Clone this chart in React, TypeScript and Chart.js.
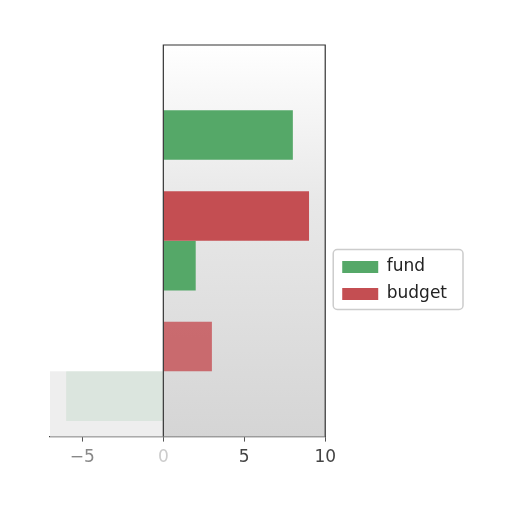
import { useEffect, useRef } from 'react';
import Chart from 'chart.js/auto';

// data
const categories = ['', '', ''];
const fundValues = [8, 2, -6];
const budgetValues = [0, 9, 3];
const xTicks = [-5, 0, 5, 10];

const GREEN = '#55a868';
const RED = '#c44e52';

// plot background, left band and frame around the 0..max part
const framePlugin = {
	id: 'frame',
	afterInit(chart: any) {
		// leave a bit more room around the legend
		const legend = chart.legend;
		if (legend) {
			const fit = legend.fit.bind(legend);
			legend.fit = () => {
				fit();
				legend.width += 16;
			};
		}
	},
	afterLayout(chart: any) {
		const legend = chart.legend;
		if (legend) {
			legend.left += 7;
			legend.right += 7;
		}
	},
	beforeDatasetsDraw(chart: any) {
		const { ctx, chartArea, scales } = chart;
		const x0 = scales.x.getPixelForValue(0);
		ctx.save();
		const g = ctx.createLinearGradient(0, chartArea.top, 0, chartArea.bottom);
		g.addColorStop(0, '#ffffff');
		g.addColorStop(0.4, '#e8e8e8');
		g.addColorStop(1, '#d5d5d5');
		ctx.fillStyle = g;
		ctx.fillRect(x0, chartArea.top, chartArea.right - x0, chartArea.bottom - chartArea.top);
		const bandTop = scales.y.getPixelForValue(2);
		ctx.fillStyle = '#eeeeee';
		ctx.fillRect(chartArea.left, bandTop, x0 - chartArea.left, chartArea.bottom - bandTop);
		ctx.restore();
	},
	afterDatasetsDraw(chart: any) {
		const { ctx, chartArea, scales } = chart;
		const x0 = scales.x.getPixelForValue(0);
		ctx.save();
		ctx.strokeStyle = '#333333';
		ctx.lineWidth = 1.2;
		ctx.beginPath();
		ctx.moveTo(x0, chartArea.bottom);
		ctx.lineTo(x0, chartArea.top);
		ctx.lineTo(chartArea.right, chartArea.top);
		ctx.lineTo(chartArea.right, chartArea.bottom);
		ctx.stroke();
		ctx.restore();
	},
	afterDraw(chart: any) {
		const boxes = chart.legend?.legendHitBoxes;
		if (!boxes || !boxes.length) return;
		const { ctx } = chart;
		let l = Infinity, t = Infinity, r = -Infinity, b = -Infinity;
		boxes.forEach((h: any) => {
			l = Math.min(l, h.left);
			t = Math.min(t, h.top);
			r = Math.max(r, h.left + h.width);
			b = Math.max(b, h.top + h.height);
		});
		ctx.save();
		ctx.strokeStyle = '#cccccc';
		ctx.lineWidth = 1.5;
		ctx.beginPath();
		ctx.roundRect(l - 9, t - 9, r - l + 25, b - t + 16, 4);
		ctx.stroke();
		ctx.restore();
	},
};

const App = () => {
	const chartRef = useRef<HTMLCanvasElement>(null);
	const chartInstanceRef = useRef<Chart | null>(null);

	useEffect(() => {
		document.body.style.margin = '0';
		if (chartRef.current) {
			if (chartInstanceRef.current) {
				chartInstanceRef.current.destroy();
			}
			Chart.defaults.font.family = '"DejaVu Sans", sans-serif';

			chartInstanceRef.current = new Chart(chartRef.current, {
				type: 'bar',
				data: {
					labels: categories,
					datasets: [
						{
							label: 'budget',
							data: budgetValues,
							backgroundColor: [RED, RED, 'rgba(196,78,82,0.8)'],
							borderWidth: 0,
						},
						{
							label: 'fund',
							data: fundValues,
							backgroundColor: [GREEN, GREEN, 'rgba(85,168,104,0.12)'],
							borderWidth: 0,
						},
					],
				},
				options: {
					indexAxis: 'y',
					animation: false,
					responsive: false,
					layout: { padding: { left: 50, right: 46, top: 45, bottom: 38 } },
					datasets: {
						bar: { categoryPercentage: 0.76, barPercentage: 1 },
					},
					plugins: {
						tooltip: { enabled: false },
						legend: {
							position: 'right',
							reverse: true,
							title: {
								display: true,
								text: ' ',
								padding: { top: 9, bottom: 15 },
								font: { size: 15 },
							},
							labels: {
								boxWidth: 36,
								boxHeight: 12,
								padding: 10,
								color: '#222222',
								font: { size: 17 },
							},
						},
					},
					scales: {
						x: {
							min: -7,
							max: 10,
							afterBuildTicks: (axis: any) => {
								axis.ticks = xTicks.map((v) => ({ value: v }));
							},
							grid: {
								display: true,
								drawOnChartArea: false,
								drawTicks: true,
								tickLength: 5,
								color: '#555555',
							},
							border: { display: true, color: '#444444', width: 1.2 },
							ticks: {
								font: { size: 17 },
								padding: 6,
								color: (c: any) =>
									c.tick && c.tick.value === 0
										? '#cccccc'
										: c.tick && c.tick.value < 0
										? '#888888'
										: '#444444',
								callback: (v: any) => (Number(v) < 0 ? '\u2212' + Math.abs(Number(v)) : String(v)),
							},
						},
						y: {
							display: false,
						},
					},
				},
				plugins: [framePlugin],
			});
		}

		return () => {
			if (chartInstanceRef.current) {
				chartInstanceRef.current.destroy();
			}
		};
	}, []);

	return (
		<div style={{ width: 512, height: 512 }}>
			<canvas ref={chartRef} width={512} height={512} />
		</div>
	);
};

export default App;
